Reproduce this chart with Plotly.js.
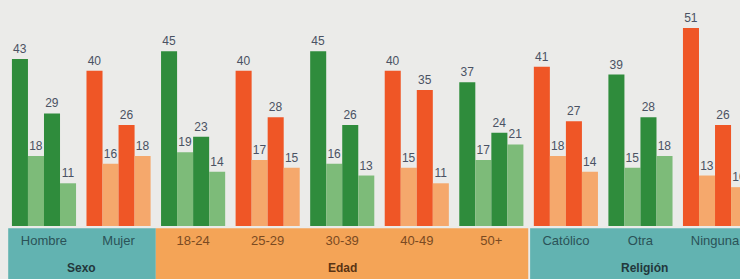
<!DOCTYPE html>
<html>
<head>
<meta charset="utf-8">
<script src="https://cdn.plot.ly/plotly-3.0.1.min.js"></script>
<style>html,body{margin:0;padding:0;background:#ebebe9;}</style>
</head>
<body>
<div id="chart" style="width:740px;height:279px;"></div>
<script>
// Categories and data
const categories = ["Hombre", "Mujer", "18-24", "25-29", "30-39", "40-49", "50+", "Católico", "Otra", "Ninguna"];
const groupNames = ["Sexo", "Edad", "Religión"];
const serie1 = [43, 40, 45, 40, 45, 40, 37, 41, 39, 51];
const serie2 = [18, 16, 19, 17, 16, 15, 17, 18, 15, 13];
const serie3 = [29, 26, 23, 28, 26, 35, 24, 27, 28, 26];
const serie4 = [11, 18, 14, 15, 13, 11, 21, 14, 18, 10];
// palette: green groups vs orange groups
const isGreen = [true, false, true, false, true, false, true, false, true, false];

const darkGreen = "#2f8c3c", lightGreen = "#7dbb79";
const darkOrange = "#ef5626", lightOrange = "#f5a86c";
const bandTeal = "#62b3b1", bandOrange = "#f4a457";

function colors(dark) {
  return isGreen.map(g => dark ? (g ? darkGreen : darkOrange) : (g ? lightGreen : lightOrange));
}

const series = [serie1, serie2, serie3, serie4];
const traces = series.map((vals, i) => ({
  type: "bar",
  x: categories,
  y: vals,
  marker: {color: colors(i % 2 === 0), line: {width: 0}},
  text: vals.map(String),
  textposition: "outside",
  constraintext: "none",
  cliponaxis: false,
  textfont: {family: "Liberation Sans, Arial, sans-serif", size: 12, color: "#4a5263"},
  hoverinfo: "none",
  showlegend: false
}));

const tickColors = ["#2b5257", "#2b5257", "#7a4a22", "#7a4a22", "#7a4a22", "#7a4a22", "#7a4a22", "#2b5257", "#2b5257", "#2b5257"];

const layout = {
  width: 740, height: 279,
  margin: {l: 0, r: 0, t: 0, b: 53},
  paper_bgcolor: "#ebebe9",
  plot_bgcolor: "#ebebe9",
  barmode: "group",
  bargap: 0.14,
  bargroupgap: 0,
  xaxis: {
    type: "category",
    range: [-0.59, 9.335],
    tickmode: "array",
    tickvals: categories,
    ticktext: categories.map((c, i) => '<span style="color:' + tickColors[i] + '">' + c + '</span>'),
    ticks: "",
    ticklabelstandoff: 5,
    showgrid: false, zeroline: false, showline: false,
    tickfont: {family: "Liberation Sans, Arial, sans-serif", size: 13},
    fixedrange: true
  },
  yaxis: {
    range: [0, 58.2],
    visible: false,
    showgrid: false, zeroline: false,
    fixedrange: true
  },
  shapes: [
    {type: "rect", xref: "x", yref: "paper", x0: -0.48, x1: 1.5, y0: -0.235, y1: -0.01, fillcolor: bandTeal, line: {width: 0}, layer: "below"},
    {type: "rect", xref: "x", yref: "paper", x0: 1.5, x1: 6.495, y0: -0.235, y1: -0.01, fillcolor: bandOrange, line: {width: 0}, layer: "below"},
    {type: "rect", xref: "x", yref: "paper", x0: 6.52, x1: 9.6, y0: -0.235, y1: -0.01, fillcolor: bandTeal, line: {width: 0}, layer: "below"}
  ],
  annotations: [
    {text: "<b>" + groupNames[0] + "</b>", x: 0.5, xref: "x", y: -0.186, yref: "paper", yanchor: "middle", showarrow: false, font: {family: "Liberation Sans, Arial, sans-serif", size: 12, color: "#22383c"}},
    {text: "<b>" + groupNames[1] + "</b>", x: 4, xref: "x", y: -0.186, yref: "paper", yanchor: "middle", showarrow: false, font: {family: "Liberation Sans, Arial, sans-serif", size: 12, color: "#5a3414"}},
    {text: "<b>" + groupNames[2] + "</b>", x: 8.06, xref: "x", y: -0.186, yref: "paper", yanchor: "middle", showarrow: false, font: {family: "Liberation Sans, Arial, sans-serif", size: 12, color: "#22383c"}}
  ]
};

Plotly.newPlot("chart", traces, layout, {staticPlot: true, displayModeBar: false});
</script>
</body>
</html>
